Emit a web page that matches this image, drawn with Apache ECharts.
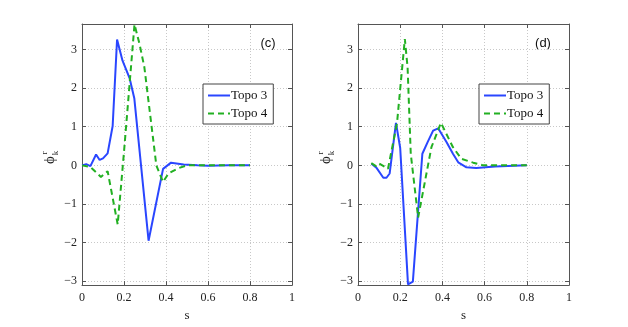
<!DOCTYPE html>
<html>
<head>
<meta charset="utf-8">
<script src="https://cdn.jsdelivr.net/npm/echarts@6/dist/echarts.min.js"></script>
<style>
html, body { margin: 0; padding: 0; background: #fff; }
#chart { width: 628px; height: 327px; }
</style>
</head>
<body>
<div id="chart"></div>
<script>
// panel (c)
var topo3C = [[0, 0], [0.02, 0.03], [0.04, -0.02], [0.067, 0.28], [0.084, 0.14], [0.1, 0.18], [0.122, 0.31],
  [0.146, 1.02], [0.167, 3.26], [0.193, 2.71], [0.227, 2.25], [0.249, 1.74], [0.317, -1.95], [0.386, -0.09],
  [0.424, 0.07], [0.484, 0.02], [0.55, 0], [0.6, -0.01], [0.7, 0], [0.8, 0]]
var topo4C = [[0, 0], [0.04, -0.04], [0.09, -0.3], [0.122, -0.15], [0.17, -1.53], [0.2, 0.35], [0.25, 3.65],
  [0.274, 3.14], [0.297, 2.54], [0.354, 0], [0.386, -0.43], [0.412, -0.21], [0.46, -0.07], [0.5, 0],
  [0.6, 0], [0.8, 0]]
// panel (d)
var topo3D = [[0.064, 0.04], [0.087, -0.06], [0.12, -0.32], [0.135, -0.32], [0.15, -0.21], [0.18, 1.1],
  [0.2, 0.45], [0.237, -3.08], [0.26, -3.01], [0.305, 0.3], [0.33, 0.6], [0.356, 0.9], [0.38, 0.96],
  [0.42, 0.6], [0.45, 0.3], [0.475, 0.08], [0.514, -0.05], [0.56, -0.07], [0.65, -0.03], [0.8, 0]]
var topo4D = [[0.063, 0.06], [0.085, -0.02], [0.1, 0.05], [0.142, -0.09], [0.185, 1.1], [0.222, 3.27],
  [0.235, 2.54], [0.25, 0.3], [0.285, -1.35], [0.348, 0.47], [0.393, 1.1], [0.45, 0.47], [0.49, 0.17],
  [0.546, 0.07], [0.593, 0], [0.8, 0]]

var yTicks = [-3, -2, -1, 0, 1, 2, 3]
var seriesNames = ['Topo 3', 'Topo 4']
var panelLabels = ['(c)', '(d)']

var serif = 'Liberation Serif'
var blue = '#2a46ff'
var green = '#22b022'

var chart = echarts.init(document.getElementById('chart'))

function minus (v) {
  return String(v).replace('-', '\u2212')
}

function xAx (grid, top) {
  return {
    type: 'value',
    gridIndex: grid,
    position: top ? 'top' : 'bottom',
    min: 0,
    max: 1,
    interval: 0.2,
    name: top ? '' : 's',
    nameLocation: 'middle',
    nameGap: 18,
    nameTextStyle: { fontFamily: serif, fontSize: 13, color: '#222' },
    axisLine: { show: true, onZero: false, lineStyle: { color: '#555', width: 1 } },
    axisTick: { show: true, inside: true, length: 4, lineStyle: { color: '#555' } },
    axisLabel: { show: !top, fontFamily: serif, fontSize: 12, color: '#222', margin: 7 },
    splitLine: { show: !top, lineStyle: { color: '#c8c8c8', type: [1, 2] } }
  }
}

function yAx (grid, right) {
  return {
    type: 'value',
    gridIndex: grid,
    position: right ? 'right' : 'left',
    min: -3.1,
    max: 3.66,
    axisLine: { show: true, onZero: false, lineStyle: { color: '#555', width: 1 } },
    axisTick: { show: true, inside: true, length: 4, customValues: yTicks, lineStyle: { color: '#555' } },
    axisLabel: { show: !right, customValues: yTicks, fontFamily: serif, fontSize: 12, color: '#222', margin: 5, formatter: minus },
    splitLine: { show: !right, lineStyle: { color: '#c8c8c8', type: [1, 2] } }
  }
}

function line (name, data, idx, color, dashed) {
  return {
    name: name,
    type: 'line',
    xAxisIndex: idx,
    yAxisIndex: idx,
    data: data,
    showSymbol: false,
    symbol: 'none',
    silent: true,
    animation: false,
    lineStyle: { color: color, width: 2, type: dashed ? [6, 4] : 'solid' },
    itemStyle: { color: color }
  }
}

function legend (left) {
  return {
    data: seriesNames,
    orient: 'vertical',
    left: left,
    top: 84,
    itemWidth: 22,
    itemHeight: 14,
    itemGap: 5,
    padding: [5, 6, 4, 4],
    borderColor: '#444',
    borderWidth: 1,
    borderRadius: 0,
    backgroundColor: '#fff',
    selectedMode: false,
    itemStyle: { opacity: 0 },
    textStyle: { fontFamily: serif, fontSize: 13, color: '#111', padding: [0, 0, 0, -4] }
  }
}

function yName (x) {
  return {
    type: 'group',
    x: x,
    y: 160,
    rotation: Math.PI / 2,
    children: [
      { type: 'text', x: 0, y: 0, style: { text: '\u03d5', fontFamily: serif, fontSize: 15, fill: '#222', align: 'center', verticalAlign: 'middle' } },
      { type: 'text', x: 7, y: 6, style: { text: 'k', fontFamily: serif, fontSize: 9, fill: '#222', align: 'center', verticalAlign: 'middle' } },
      { type: 'text', x: 7, y: -5, style: { text: 'r', fontFamily: serif, fontSize: 9, fill: '#222', align: 'center', verticalAlign: 'middle' } }
    ]
  }
}

var option = {
  backgroundColor: '#fff',
  animation: false,
  grid: [
    { left: 82, right: 336, top: 24, bottom: 37 },
    { left: 358, right: 59, top: 24, bottom: 37 }
  ],
  xAxis: [xAx(0, false), xAx(0, true), xAx(1, false), xAx(1, true)],
  yAxis: [yAx(0, false), yAx(0, true), yAx(1, false), yAx(1, true)],
  legend: [legend(203), legend(479)],
  series: [
    line(seriesNames[0], topo3C, 0, blue, false),
    line(seriesNames[1], topo4C, 0, green, true),
    line(seriesNames[0], topo3D, 2, blue, false),
    line(seriesNames[1], topo4D, 2, green, true)
  ],
  graphic: [
    { type: 'text', x: 268, y: 43, style: { text: panelLabels[0], fontFamily: 'Liberation Sans', fontSize: 13, fill: '#111', align: 'center', verticalAlign: 'middle' } },
    { type: 'text', x: 543, y: 43, style: { text: panelLabels[1], fontFamily: 'Liberation Sans', fontSize: 13, fill: '#111', align: 'center', verticalAlign: 'middle' } },
    yName(50),
    yName(326)
  ]
}

chart.setOption(option)
</script>
</body>
</html>
